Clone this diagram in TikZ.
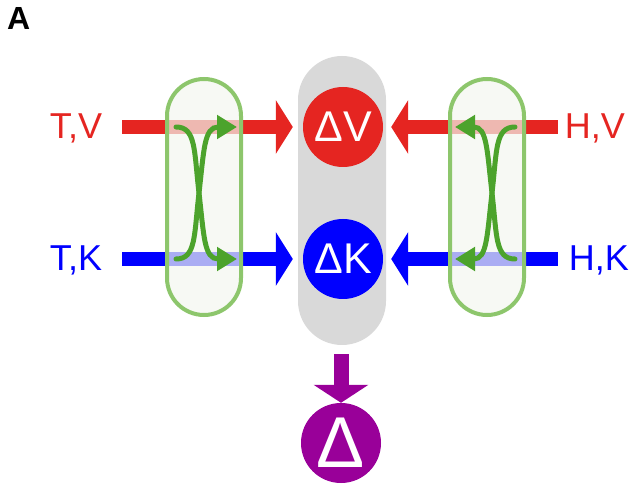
\documentclass[tikz,border=0pt]{standalone}
\usepackage{fontspec}
\setmainfont{Liberation Sans}
\usepackage{tikz}
\usetikzlibrary{arrows.meta, positioning}

\definecolor{vred}{RGB}{229,37,33}
\definecolor{kblue}{RGB}{0,0,255}
\definecolor{dpurple}{RGB}{153,0,153}
\definecolor{capgray}{RGB}{217,217,217}
\definecolor{mixline}{RGB}{141,198,108}
\definecolor{mixfill}{RGB}{243,247,239}
\definecolor{swapgreen}{RGB}{76,163,44}

\begin{document}
\begin{tikzpicture}[x=1pt, y=-1pt]

        % Define styles
        \tikzstyle{lbl} = [inner sep=0pt, anchor=base, font=\fontsize{36}{42}\selectfont]
        \tikzstyle{delta} = [circle, inner sep=0pt, minimum size=80pt, text=white, font=\fontsize{43}{50}\selectfont]
        \tikzstyle{capsulebox} = [rectangle, fill=capgray, rounded corners=44pt, minimum width=88pt, minimum height=289pt]
        \tikzstyle{mix} = [rectangle, draw=mixline, line width=4pt, fill=mixfill, fill opacity=0.7, rounded corners=37pt, minimum width=74pt, minimum height=236pt]
        \tikzstyle{flow} = [line width=14pt, -{Triangle[length=17pt, width=53pt]}]
        \tikzstyle{swap} = [draw=swapgreen, line width=5pt, line cap=round, -{Triangle[length=20pt, width=23pt]}]

        \useasboundingbox (0,0) rectangle (633,484);

        % Place nodes
        \node [inner sep=0pt, anchor=base west, font=\fontsize{32}{38}\selectfont\bfseries] (tag) at (7,30) {A};
        \node [capsulebox] (capsule) at (342,200.5) {};
        \node [lbl, text=vred] (TV) at (76,139) {T,V};
        \node [lbl, text=vred] (HV) at (595,139) {H,V};
        \node [lbl, text=kblue] (TK) at (76,271) {T,K};
        \node [lbl, text=kblue] (HK) at (599,271) {H,K};
        \node [delta, fill=vred] (dV) at (343,127) {ΔV};
        \node [delta, fill=kblue] (dK) at (343,259) {ΔK};
        \node [delta, fill=dpurple, font=\fontsize{72}{80}\selectfont] (dTot) at (341,443) {Δ};

        % Draw edges
        \draw [flow, vred, shorten <=20pt, shorten >=10pt] (TV.east |- dV) -- (dV);
        \draw [flow, vred, shorten <=7pt, shorten >=8pt] (HV.west |- dV) -- (dV);
        \draw [flow, kblue, shorten <=20pt, shorten >=10pt] (TK.east |- dK) -- (dK);
        \draw [flow, kblue, shorten <=11pt, shorten >=8pt] (HK.west |- dK) -- (dK);
        \draw [flow, dpurple, line width=15pt, -{Triangle[length=18pt, width=54pt]}, shorten <=9pt] (capsule.south -| dTot) -- (dTot.north);

        % Mixing boxes
        \node [mix] (mixT) at (204,197) {};
        \node [mix] (mixH) at (487,197) {};

        % Swap connections
        \coordinate (tvIn) at (176,127);  \coordinate (tvOut) at (237,127);
        \coordinate (tkIn) at (176,259);  \coordinate (tkOut) at (237,259);
        \coordinate (hvIn) at (515,127);  \coordinate (hvOut) at (455,127);
        \coordinate (hkIn) at (515,259);  \coordinate (hkOut) at (455,259);
        \path [swap] (tvIn) .. controls (196,127) and (194,150) .. (199,193) .. controls (204,236) and (204,259) .. (tkOut);
        \path [swap] (tkIn) .. controls (196,259) and (194,236) .. (199,193) .. controls (204,150) and (204,127) .. (tvOut);
        \path [swap] (hvIn) .. controls (495,127) and (497,150) .. (492,193) .. controls (487,236) and (487,259) .. (hkOut);
        \path [swap] (hkIn) .. controls (495,259) and (497,236) .. (492,193) .. controls (487,150) and (487,127) .. (hvOut);

    \end{tikzpicture}
\end{document}
